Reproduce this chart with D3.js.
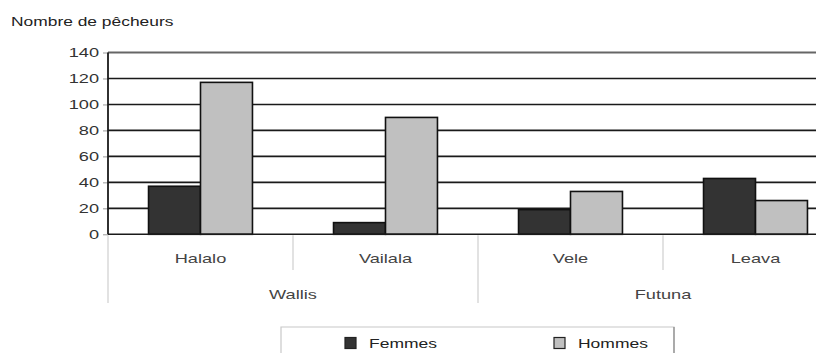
<!DOCTYPE html>
<html><head><meta charset="utf-8">
<script src="https://cdn.jsdelivr.net/npm/d3@7"></script>
<style>body{margin:0;background:#fff}svg{display:block}text{font-family:"Liberation Sans",Arial,sans-serif}</style>
</head><body>
<svg id="c" width="816" height="353"></svg>
<script>
const categories = ["Halalo", "Vailala", "Vele", "Leava"];
const groups = [{name: "Wallis", cats: ["Halalo", "Vailala"]}, {name: "Futuna", cats: ["Vele", "Leava"]}];
const seriesNames = ["Femmes", "Hommes"];
const femmes = [37, 9, 19, 43];
const hommes = [117, 90, 33, 26];
const yTicks = [0, 20, 40, 60, 80, 100, 120, 140];
const yTitle = "Nombre de pêcheurs";

const colors = {Femmes: "#333333", Hommes: "#c0c0c0"};
const SX = 1.4;
const svg = d3.select("#c");
const plotLeft = 108, plotTop = 52.5, plotBottom = 234.3, band = 185;

const x = d3.scaleBand().domain(categories).range([plotLeft, plotLeft + band * categories.length]).padding(0);
const xs = d3.scaleBand().domain(seriesNames).range([0, x.bandwidth()]).paddingInner(0).paddingOuter(0.78);
const y = d3.scaleLinear().domain([0, 140]).range([plotBottom, plotTop]);

function stext(sel, px, py, anchor, size, color, str) {
  sel.append("text")
    .attr("transform", `translate(${px},${py}) scale(${SX},1)`)
    .attr("text-anchor", anchor).attr("font-size", size).attr("fill", color)
    .text(str);
}

// title
svg.append("text").attr("transform", `translate(11,26) scale(1.45,1)`)
  .attr("font-size", 12).attr("fill", "#222").text(yTitle);

// gridlines
svg.append("g").selectAll("line").data(yTicks.filter(d => d > 0)).join("line")
  .attr("x1", plotLeft).attr("x2", 816).attr("y1", d => y(d)).attr("y2", d => y(d))
  .attr("stroke", d => d === 140 ? "#666" : "#1a1a1a").attr("stroke-width", d => d === 140 ? 2 : 1.6);

// y axis
const yAxis = d3.axisLeft(y).tickValues(yTicks).tickSize(5).tickPadding(9).tickFormat(d3.format("d"));
const ya = svg.append("g").attr("transform", `translate(${plotLeft},0)`).call(yAxis);
ya.select(".domain").remove();
ya.selectAll(".tick line").attr("stroke", "#999").attr("stroke-width", 1);
ya.selectAll(".tick text").attr("font-size", 13).attr("fill", "#333")
  .attr("transform", `translate(-9,0) scale(${SX},1)`).attr("x", 0);
svg.append("line").attr("x1", plotLeft).attr("x2", plotLeft).attr("y1", plotTop).attr("y2", plotBottom)
  .attr("stroke", "#1a1a1a").attr("stroke-width", 1.8);

// bars
const data = categories.map((c, i) => ({cat: c, vals: [{s: "Femmes", v: femmes[i]}, {s: "Hommes", v: hommes[i]}]}));
const gb = svg.append("g").selectAll("g").data(data).join("g").attr("transform", d => `translate(${x(d.cat)},0)`);
gb.selectAll("rect").data(d => d.vals).join("rect")
  .attr("x", d => xs(d.s)).attr("width", xs.bandwidth())
  .attr("y", d => y(d.v)).attr("height", d => y(0) - y(d.v))
  .attr("fill", d => colors[d.s]).attr("stroke", "#111").attr("stroke-width", 1.6);

// baseline
svg.append("line").attr("x1", plotLeft).attr("x2", 816).attr("y1", plotBottom).attr("y2", plotBottom)
  .attr("stroke", "#1a1a1a").attr("stroke-width", 1.6);

// category separators
const sep = svg.append("g").attr("stroke", "#cfcfcf").attr("stroke-width", 1.2);
categories.forEach((c, i) => {
  const isGroupStart = groups.some(g => g.cats[0] === c);
  sep.append("line").attr("x1", x(c)).attr("x2", x(c)).attr("y1", plotBottom + 1).attr("y2", isGroupStart ? 303 : 270);
});

// category labels
categories.forEach(c => stext(svg, x(c) + x.bandwidth() / 2, 263, "middle", 13, "#444", c));
groups.forEach(g => {
  const x0 = x(g.cats[0]), x1 = x(g.cats[g.cats.length - 1]) + x.bandwidth();
  stext(svg, (x0 + x1) / 2, 299, "middle", 13, "#444", g.name);
});

// legend
const lg = svg.append("g");
lg.append("path").attr("d", "M281,360 V327 H674 V360").attr("fill", "none").attr("stroke", "#c8c8c8").attr("stroke-width", 1.2);
lg.append("line").attr("x1", 674).attr("x2", 674).attr("y1", 327).attr("y2", 360).attr("stroke", "#888").attr("stroke-width", 1.2);
const legX = {Femmes: 345, Hommes: 554};
seriesNames.forEach(s => {
  lg.append("rect").attr("x", legX[s]).attr("y", 337.5).attr("width", 11).attr("height", 11)
    .attr("fill", colors[s]).attr("stroke", "#222").attr("stroke-width", 1.2);
  stext(lg, legX[s] + 24, 348, "start", 12.5, "#222", s);
});
</script>
</body></html>
